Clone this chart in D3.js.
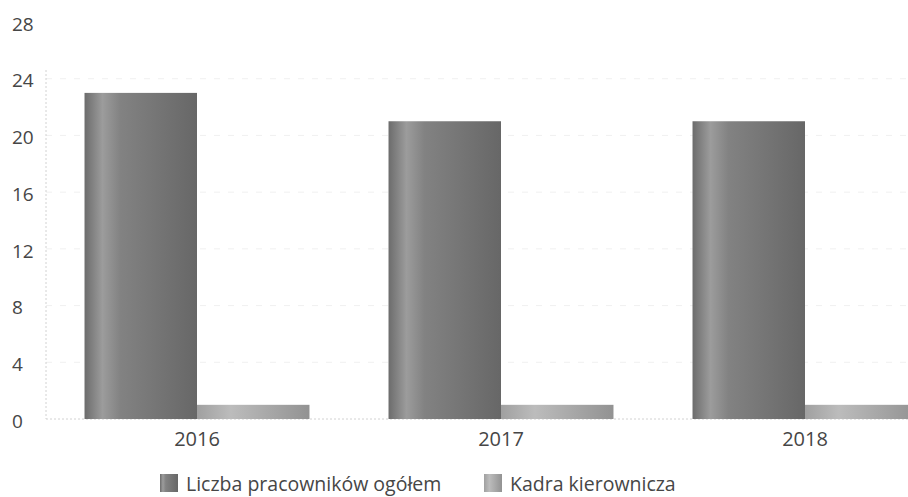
<!DOCTYPE html>
<html>
<head>
<meta charset="utf-8">
<title>pracownicy</title>
<script src="https://cdnjs.cloudflare.com/ajax/libs/d3/7.8.5/d3.min.js"></script>
<style>
  body { margin: 0; background: #fff; }
  text { font-family: "Open Sans", "Noto Sans", sans-serif; fill: #464646; }
</style>
</head>
<body>
<svg width="908" height="497"></svg>
<script>
var years = ["2016", "2017", "2018"];
var seriesNames = ["Liczba pracowników ogółem", "Kadra kierownicza"];
var totalStaff = [23, 21, 21];
var managers = [1, 1, 1];
var yTicks = [0, 4, 8, 12, 16, 20, 24, 28];

var svg = d3.select("svg");
var defs = svg.append("defs");

function grad(id, stops) {
  var g = defs.append("linearGradient").attr("id", id)
    .attr("x1", "0%").attr("x2", "100%").attr("y1", "0%").attr("y2", "0%");
  stops.forEach(function (s) {
    g.append("stop").attr("offset", s[0]).attr("stop-color", s[1]);
  });
}
grad("g0", [["0%", "#6c6c6c"], ["16%", "#9c9c9c"], ["32%", "#828282"], ["100%", "#676767"]]);
grad("g1", [["0%", "#a0a0a0"], ["30%", "#bcbcbc"], ["100%", "#929292"]]);

var x0 = d3.scaleBand().domain(years).range([45, 957]).paddingInner(0.26).paddingOuter(0.13);
var x1 = d3.scaleBand().domain([0, 1]).range([0, x0.bandwidth()]);
var y = d3.scaleLinear().domain([0, 28]).range([419, 22]);

// grid
svg.append("g").selectAll("line").data(yTicks.slice(1, -1))
  .enter().append("line")
  .attr("x1", 46).attr("x2", 908)
  .attr("y1", function (d) { return y(d); }).attr("y2", function (d) { return y(d); })
  .style("stroke", "#f0f0f0").style("stroke-dasharray", "6,8");

svg.append("line").attr("x1", 46).attr("x2", 46).attr("y1", 70).attr("y2", y(0))
  .style("stroke", "#d2d2d2").style("stroke-dasharray", "2,2");
svg.append("line").attr("x1", 46).attr("x2", 908).attr("y1", y(0)).attr("y2", y(0))
  .style("stroke", "#d2d2d2").style("stroke-dasharray", "2,2");

// y labels
svg.append("g").selectAll("text").data(yTicks).enter().append("text")
  .attr("x", 12).attr("y", function (d) { return y(d) + 2; }).attr("dy", "0.35em")
  .style("font-size", "19px")
  .text(function (d) { return d; });

// bars
var rows = years.map(function (yr, i) { return { year: yr, vals: [totalStaff[i], managers[i]] }; });
var grp = svg.append("g").selectAll("g").data(rows).enter().append("g")
  .attr("transform", function (d) { return "translate(" + x0(d.year) + ",0)"; });
grp.selectAll("rect").data(function (d) { return d.vals; }).enter().append("rect")
  .attr("x", function (d, i) { return x1(i); })
  .attr("y", function (d) { return y(d); })
  .attr("width", x1.bandwidth())
  .attr("height", function (d) { return y(0) - y(d); })
  .style("fill", function (d, i) { return "url(#g" + i + ")"; });

// x labels
svg.append("g").selectAll("text").data(years).enter().append("text")
  .attr("x", function (d) { return x0(d) + x0.bandwidth() / 2; }).attr("y", 446)
  .attr("text-anchor", "middle").style("font-size", "20px")
  .text(function (d) { return d; });

// legend
var legX = [160, 484];
var leg = svg.append("g").selectAll("g").data(seriesNames).enter().append("g")
  .attr("transform", function (d, i) { return "translate(" + legX[i] + ",474)"; });
leg.append("rect").attr("width", 18).attr("height", 18)
  .style("fill", function (d, i) { return "url(#g" + i + ")"; });
leg.append("text").attr("x", 26).attr("y", 17)
  .style("font-size", "19.5px")
  .text(function (d) { return d; });
</script>
</body>
</html>
